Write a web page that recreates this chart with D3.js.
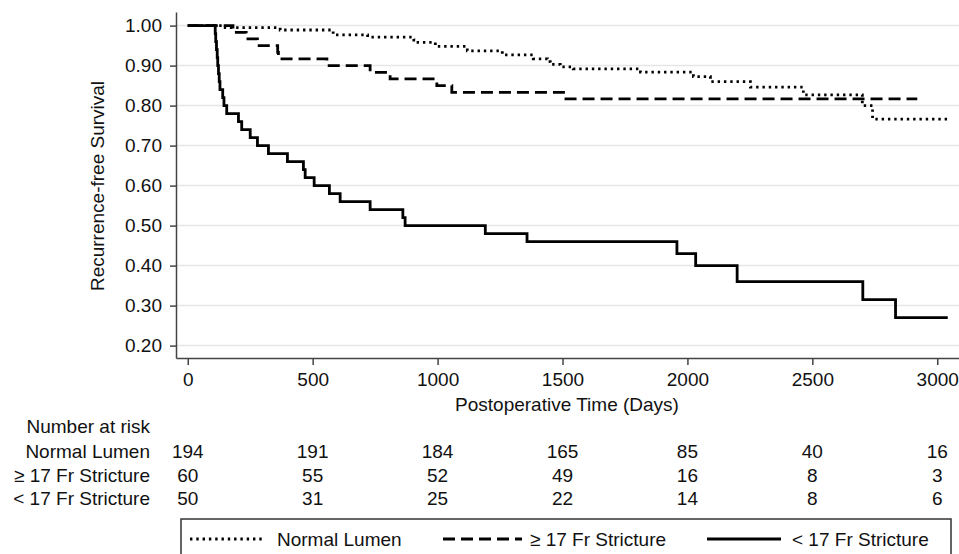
<!DOCTYPE html>
<html>
<head>
<meta charset="utf-8">
<script src="https://cdn.jsdelivr.net/npm/d3@7"></script>
<style>
  body { margin: 0; background: #fff; }
  svg { display: block; }
  text { font-family: "Liberation Sans", Arial, sans-serif; fill: #111; }
</style>
</head>
<body>
<script>
// tick values
var xTicks = [0, 500, 1000, 1500, 2000, 2500, 3000];
var yTicks = [0.2, 0.3, 0.4, 0.5, 0.6, 0.7, 0.8, 0.9, 1.0];

// Kaplan-Meier steps (time in days, survival)
var normalTime = [0, 150, 370, 582, 720, 905, 915, 991, 1119, 1259, 1383, 1440, 1451, 1491, 1543, 1812, 2024, 2092, 2252, 2464, 2700, 2741, 3040];
var normalSurv = [1, 0.995, 0.989, 0.977, 0.971, 0.964, 0.958, 0.948, 0.937, 0.927, 0.917, 0.910, 0.903, 0.897, 0.892, 0.8835, 0.8725, 0.860, 0.846, 0.827, 0.800, 0.766, 0.766];

var geTime = [0, 181, 234, 279, 360, 363, 557, 730, 810, 997, 1057, 1504, 2920];
var geSurv = [1, 0.983, 0.967, 0.950, 0.933, 0.917, 0.900, 0.883, 0.867, 0.850, 0.833, 0.817, 0.817];

var ltTime = [0, 110, 112, 115, 118, 120, 123, 126, 129, 140, 145, 156, 203, 216, 250, 279, 323, 399, 463, 470, 506, 567, 610, 730, 861, 870, 1191, 1358, 1958, 2033, 2199, 2702, 2833, 3042];
var ltSurv = [1, 0.98, 0.96, 0.94, 0.92, 0.90, 0.88, 0.86, 0.84, 0.82, 0.80, 0.78, 0.76, 0.74, 0.72, 0.70, 0.68, 0.66, 0.64, 0.62, 0.60, 0.58, 0.56, 0.54, 0.52, 0.50, 0.48, 0.46, 0.43, 0.40, 0.36, 0.315, 0.27, 0.27];

// number at risk
var riskLabels = ['Normal Lumen', '\u2265 17 Fr Stricture', '< 17 Fr Stricture'];
var riskNormal = [194, 191, 184, 165, 85, 40, 16];
var riskGe = [60, 55, 52, 49, 16, 8, 3];
var riskLt = [50, 31, 25, 22, 14, 8, 6];

var legendLabels = ['Normal Lumen', '\u2265 17 Fr Stricture', '< 17 Fr Stricture'];

var width = 959, height = 554;
var fs = 19;

var svg = d3.select('body').append('svg')
  .attr('width', width)
  .attr('height', height);

var x = d3.scaleLinear().domain([-47, 3087]).range([176, 959]);
var y = d3.scaleLinear().domain([0.169, 1.034]).range([358, 12]);

// grid
svg.append('g')
  .selectAll('line')
  .data(yTicks)
  .enter()
  .append('line')
  .attr('x1', 176)
  .attr('x2', width)
  .attr('y1', function(d) { return y(d); })
  .attr('y2', function(d) { return y(d); })
  .attr('stroke', '#e6e6e6')
  .attr('stroke-width', 1.5);

// axes
var yAxis = svg.append('g')
  .attr('transform', 'translate(176,0)')
  .call(d3.axisLeft(y).tickValues(yTicks).tickFormat(d3.format('.2f')).tickSize(6).tickPadding(8).tickSizeOuter(0));

var xAxis = svg.append('g')
  .attr('transform', 'translate(0,358)')
  .call(d3.axisBottom(x).tickValues(xTicks).tickFormat(d3.format('d')).tickSize(7).tickPadding(8).tickSizeOuter(0));

[yAxis, xAxis].forEach(function(g) {
  g.select('.domain').attr('stroke', '#444').attr('stroke-width', 1.5);
  g.selectAll('.tick line').attr('stroke', '#444').attr('stroke-width', 1.5);
  g.selectAll('.tick text')
    .attr('font-size', fs + 'px')
    .attr('font-family', '"Liberation Sans", Arial, sans-serif')
    .attr('fill', '#111');
});

svg.append('text')
  .attr('transform', 'translate(104,186) rotate(-90)')
  .attr('text-anchor', 'middle')
  .attr('font-size', fs + 'px')
  .text('Recurrence-free Survival');

svg.append('text')
  .attr('x', 567)
  .attr('y', 411)
  .attr('text-anchor', 'middle')
  .attr('font-size', fs + 'px')
  .text('Postoperative Time (Days)');

// curves
var line = d3.line()
  .x(function(d) { return x(d[0]); })
  .y(function(d) { return y(d[1]); })
  .curve(d3.curveStepAfter);

var curves = [
  { time: normalTime, surv: normalSurv, dash: '2.4,3.9' },
  { time: geTime, surv: geSurv, dash: '12,6' },
  { time: ltTime, surv: ltSurv, dash: null }
];

svg.append('g')
  .selectAll('path')
  .data(curves)
  .enter()
  .append('path')
  .attr('d', function(c) {
    return line(c.time.map(function(t, i) { return [t, c.surv[i]]; }));
  })
  .attr('fill', 'none')
  .attr('stroke', '#000')
  .attr('stroke-width', 2.8)
  .attr('stroke-dasharray', function(c) { return c.dash; });

// number at risk table
svg.append('text')
  .attr('x', 150)
  .attr('y', 433)
  .attr('text-anchor', 'end')
  .attr('font-size', fs + 'px')
  .text('Number at risk');

var rowY = [458, 482, 505];
var riskRows = [riskNormal, riskGe, riskLt];

riskRows.forEach(function(row, r) {
  svg.append('text')
    .attr('x', 150)
    .attr('y', rowY[r])
    .attr('text-anchor', 'end')
    .attr('font-size', fs + 'px')
    .text(riskLabels[r]);

  svg.append('g')
    .selectAll('text')
    .data(row)
    .enter()
    .append('text')
    .attr('x', function(d, i) { return x(xTicks[i]); })
    .attr('y', rowY[r])
    .attr('text-anchor', 'middle')
    .attr('font-size', fs + 'px')
    .text(function(d) { return d; });
});

// legend
svg.append('rect')
  .attr('x', 181)
  .attr('y', 519)
  .attr('width', 770)
  .attr('height', 60)
  .attr('fill', 'none')
  .attr('stroke', '#333')
  .attr('stroke-width', 1.5);

var legendKeys = [
  { x1: 190, x2: 262, tx: 277 },
  { x1: 443, x2: 522, tx: 530 },
  { x1: 707, x2: 781, tx: 792 }
];

legendKeys.forEach(function(k, i) {
  svg.append('line')
    .attr('x1', k.x1)
    .attr('x2', k.x2)
    .attr('y1', 539)
    .attr('y2', 539)
    .attr('stroke', '#000')
    .attr('stroke-width', 2.8)
    .attr('stroke-dasharray', curves[i].dash);

  svg.append('text')
    .attr('x', k.tx)
    .attr('y', 546)
    .attr('font-size', fs + 'px')
    .text(legendLabels[i]);
});
</script>
</body>
</html>
